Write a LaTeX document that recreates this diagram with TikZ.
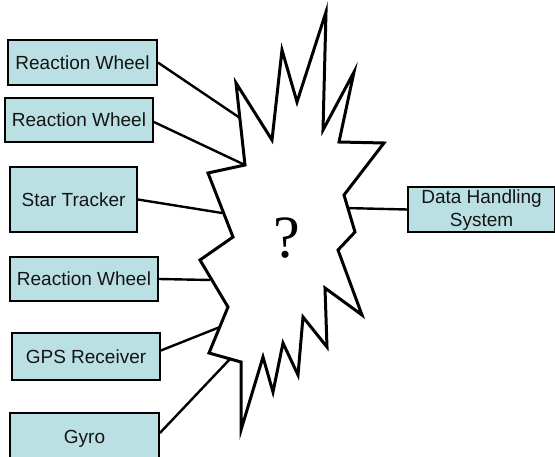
\documentclass[tikz,border=0pt]{standalone}
\usepackage{fontspec}
\setmainfont{Liberation Sans}
\newfontfamily\qfont{Liberation Serif}
\definecolor{boxfill}{RGB}{187,224,227}
\definecolor{txt}{RGB}{20,20,20}
\tikzset{
  unitbox/.style={draw=black, line width=1.8pt, fill=boxfill, inner sep=0pt,
    font=\fontsize{19}{22}\selectfont, text=txt, align=center},
  conn/.style={draw=black, line width=2.4pt},
  burst/.style={draw=black, line width=3pt, fill=white, line join=miter, miter limit=10}
}
\begin{document}
\begin{tikzpicture}[x=1pt,y=-1pt]
\useasboundingbox (0,0) rectangle (555,457);
\clip (0,0) rectangle (555,457);
\fill[white] (0,0) rectangle (555,457);
% boxes
\node[unitbox, minimum width=149pt, minimum height=45pt] (rw1) at (82.5,62.5) {Reaction Wheel};
\node[unitbox, minimum width=148pt, minimum height=44pt] (rw2) at (79,120) {Reaction Wheel};
\node[unitbox, minimum width=127pt, minimum height=65pt] (st) at (73.5,199.5) {Star Tracker};
\node[unitbox, minimum width=148pt, minimum height=44pt] (rw3) at (84,279) {Reaction Wheel};
\node[unitbox, minimum width=148pt, minimum height=47pt] (gps) at (86,356.5) {GPS Receiver};
\node[unitbox, minimum width=149pt, minimum height=52pt] (gyro) at (84.5,439) {Gyro};
\node[unitbox, minimum width=147pt, minimum height=45pt] (dhs) at (481.5,209.5) {};
\node[font=\fontsize{19}{23}\selectfont, text=txt, align=center, inner sep=0pt, anchor=north] (dhstext) at (481.5,189.5) {Data Handling\\System};
% attachment points on the burst
\coordinate (a1) at (240,118);
\coordinate (a2) at (245,165);
\coordinate (a3) at (222,213);
\coordinate (a4) at (210,280);
\coordinate (a5) at (220,327);
\coordinate (a6) at (230,359);
\coordinate (a7) at (344,208);
% connectors
\draw[conn] (rw1.east) -- (a1);
\draw[conn] ([yshift=-2pt]rw2.east) -- (a2);
\draw[conn] (st.east) -- (a3);
\draw[conn] (rw3.east) -- (a4);
\draw[conn] ([yshift=6pt]gps.east) -- (a5);
\draw[conn] ([yshift=6pt]gyro.east) -- (a6);
\draw[conn] (dhs.west) -- (a7);
% burst
\draw[burst] (326,12) -- (323,130) -- (354,72) -- (339,142) -- (384,143) -- (344,195)
  -- (355,232) -- (338,250) -- (362,315) -- (325,288) -- (327,347) -- (303,317)
  -- (298,375) -- (283,343) -- (273,392) -- (263,357) -- (241,430) -- (241,362)
  -- (209,353) -- (228,307) -- (200,260) -- (233,237) -- (208,173) -- (245,165)
  -- (236,83) -- (272,140) -- (282,50) -- (297,102) -- cycle;
\node[font=\qfont\fontsize{60}{60}\selectfont, inner sep=0pt] (q) at (287,238) {?};
\end{tikzpicture}
\end{document}
